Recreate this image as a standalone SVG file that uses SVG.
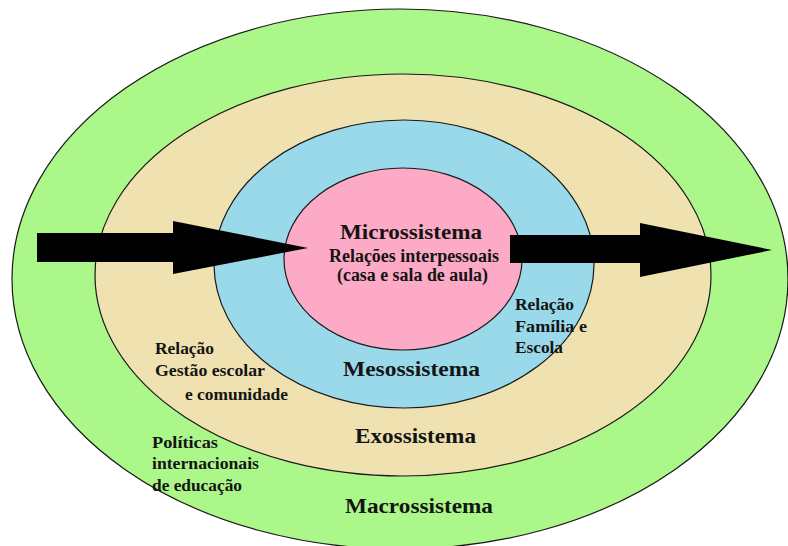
<svg xmlns="http://www.w3.org/2000/svg" width="788" height="546" viewBox="0 0 788 546">
<style>
.ring{stroke:#1a1a1a;stroke-width:1.2}
text{font-family:'Liberation Serif','DejaVu Serif',serif;font-weight:bold;fill:#141414}
.big{font-size:21px}
.mid{font-size:18px}
.sm{font-size:17px}
.arrow{fill:#000}
</style>
<rect width="788" height="546" fill="#fff"/>
<g id="macrossistema">
<ellipse class="ring" cx="400" cy="279" rx="388" ry="270" fill="#acf78a"/>
</g>
<g id="exossistema">
<ellipse class="ring" cx="403" cy="275" rx="308" ry="201" fill="#efe1b0"/>
</g>
<g id="mesossistema">
<ellipse class="ring" cx="404" cy="264" rx="190" ry="144" fill="#99d9ea"/>
</g>
<g id="microssistema">
<ellipse class="ring" cx="403" cy="259" rx="119" ry="91" fill="#fdaac6"/>
</g>
<g id="connectors">
<polygon class="arrow" points="37,233 173,233 173,221 308,248 173,274 173,262 37,262"/>
<polygon class="arrow" points="510,235 640,235 640,223 772,250 640,277 640,263 510,263"/>
</g>
<g id="labels" font-family="Liberation Serif, DejaVu Serif, serif">
<text class="big" x="340" y="239" textLength="142" lengthAdjust="spacingAndGlyphs">Microssistema</text>
<text class="mid" x="329" y="262" textLength="170" lengthAdjust="spacingAndGlyphs">Relações interpessoais</text>
<text class="mid" x="337" y="281" textLength="151" lengthAdjust="spacingAndGlyphs">(casa e sala de aula)</text>
<text class="sm" x="515" y="310" textLength="59" lengthAdjust="spacingAndGlyphs">Relação</text>
<text class="sm" x="515" y="332" textLength="72" lengthAdjust="spacingAndGlyphs">Família e</text>
<text class="sm" x="515" y="353" textLength="48" lengthAdjust="spacingAndGlyphs">Escola</text>
<text class="sm" x="155" y="354" textLength="59" lengthAdjust="spacingAndGlyphs">Relação</text>
<text class="sm" x="155" y="376" textLength="110" lengthAdjust="spacingAndGlyphs">Gestão escolar</text>
<text class="sm" x="185" y="400" textLength="103" lengthAdjust="spacingAndGlyphs">e comunidade</text>
<text class="sm" x="152" y="448" textLength="66" lengthAdjust="spacingAndGlyphs">Políticas</text>
<text class="sm" x="152" y="469" textLength="107" lengthAdjust="spacingAndGlyphs">internacionais</text>
<text class="sm" x="152" y="491" textLength="90" lengthAdjust="spacingAndGlyphs">de educação</text>
<text class="big" x="343" y="376" textLength="137" lengthAdjust="spacingAndGlyphs">Mesossistema</text>
<text class="big" x="355" y="443" textLength="121" lengthAdjust="spacingAndGlyphs">Exossistema</text>
<text class="big" x="345" y="513" textLength="148" lengthAdjust="spacingAndGlyphs">Macrossistema</text>
</g>
</svg>
